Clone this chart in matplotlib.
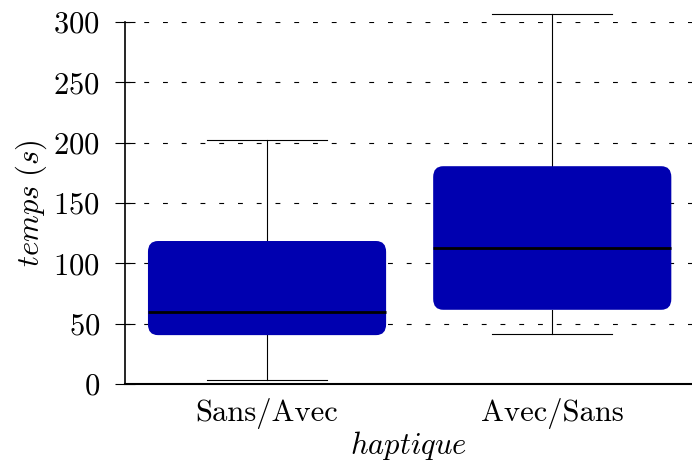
import matplotlib
matplotlib.use("Agg")
import matplotlib.pyplot as plt
from matplotlib.patches import FancyBboxPatch

# donnees
categories = ["Sans/Avec", "Avec/Sans"]
q1 = [40.5, 61.5]
mediane = [59.8, 112.7]
q3 = [118.5, 180.5]
moust_bas = [3.5, 41.5]
moust_haut = [202.5, 306.5]

plt.rcParams["font.family"] = "serif"
plt.rcParams["font.serif"] = ["cmr10"]
plt.rcParams["mathtext.fontset"] = "cm"
plt.rcParams["axes.formatter.use_mathtext"] = True
plt.rcParams["lines.scale_dashes"] = False

fig = plt.figure(figsize=(6.92, 4.68), dpi=100)
ax = fig.add_axes([125/692, 1-384/468, 567/692, 362/468])

pos = [1, 2]
stats = []
for i in range(len(categories)):
    stats.append({"med": mediane[i], "q1": q1[i], "q3": q3[i],
                  "whislo": moust_bas[i], "whishi": moust_haut[i],
                  "label": categories[i]})

bp = ax.bxp(stats, positions=pos, widths=0.835, showfliers=False,
            patch_artist=True,
            boxprops=dict(facecolor="none", edgecolor="none"),
            whiskerprops=dict(color="black", linewidth=0.8),
            capprops=dict(color="black", linewidth=0.8),
            medianprops=dict(color="black", linewidth=2.0),
            capwidths=0.42)
for l in bp["whiskers"] + bp["caps"]:
    l.set_clip_on(False)
    l.set_zorder(2)
for l in bp["medians"]:
    l.set_zorder(4)

# boites arrondies
r = 0.035
asp = 9.0 / r
for i in range(len(categories)):
    fb = FancyBboxPatch((pos[i] - 0.835/2, q1[i]), 0.835, q3[i] - q1[i],
                        boxstyle="round,pad=0,rounding_size=%f" % r,
                        mutation_aspect=asp, facecolor="#0000b0",
                        edgecolor="none", zorder=3)
    ax.add_patch(fb)

ax.set_xlim(0.502, 2.49)
ax.set_ylim(0, 300)
ax.set_yticks([0, 50, 100, 150, 200, 250, 300])
ax.set_xticks(pos)
ax.set_xticklabels(categories)
ax.tick_params(axis="x", length=0, labelsize=22, pad=10)
ax.tick_params(axis="y", direction="inout", length=14, width=0.8, labelsize=22, pad=11)

ax.grid(axis="y", color="black", linewidth=0.8, linestyle=(0, (3.5, 10)))
ax.set_axisbelow(True)
for s in ["top", "right"]:
    ax.spines[s].set_visible(False)
ax.spines["left"].set_linewidth(1.2)
ax.spines["bottom"].set_linewidth(1.5)

ax.set_ylabel(r"$\mathit{temps\ (s)}$", fontsize=22, labelpad=3)
ax.set_xlabel(r"$\mathit{haptique}$", fontsize=22, labelpad=0)

fig.savefig("out.png", dpi=100)
